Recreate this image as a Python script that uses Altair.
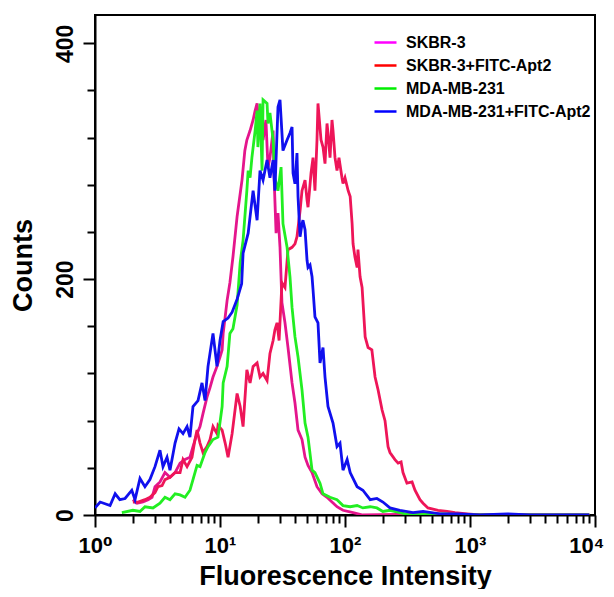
import altair as alt
import pandas as pd

series_names = ["SKBR-3", "SKBR-3+FITC-Apt2", "MDA-MB-231", "MDA-MB-231+FITC-Apt2"]
legend_colors = ["#ff00ff", "#ff0000", "#00ee00", "#0000ff"]
line_colors = ["#e4158c", "#ee1558", "#22ee22", "#1010ee"]

# SKBR-3
skbr3_x = [2.01, 2.17, 2.42, 2.66, 2.86, 3.02, 3.31, 3.63, 3.98, 4.37, 4.79, 5.25, 5.75, 6.08,
           6.55, 6.92, 7.31, 7.87, 8.32, 8.79, 9.46, 10.0, 10.4, 10.6, 11.0, 11.4, 12.0, 12.7,
           13.7, 13.9, 15.0, 15.8, 16.4, 17.4, 18.4, 19.1, 19.8, 20.1, 20.9, 22.1, 23.3, 24.2,
           25.1, 26.6, 27.0, 28.1, 29.1, 30.2, 31.3, 33.1, 35.0, 37.7, 39.8, 42.1, 45.3, 47.9,
           50.6, 54.5, 59.7, 65.5, 71.8, 78.7, 86.3, 96.4, 116, 139, 500, 900, 2000, 5000, 9000]
skbr3_y = [13, 10, 11, 13, 15, 24, 28, 36, 32, 36, 44, 47, 49, 58,
           69, 75, 86, 100, 108, 117, 126, 134, 140, 154, 168, 182, 197, 219,
           253, 258, 284, 309, 318, 326, 335, 343, 349, 341, 326, 318, 335, 295,
           303, 326, 290, 239, 256, 227, 180, 163, 142, 112, 95, 72, 64, 49,
           42, 36, 24, 18, 15, 11, 7, 4, 2, 0, 1, 0, 0, 0, 0]

# SKBR-3+FITC-Apt2
skbr3_apt_x = [2.01, 2.21, 2.51, 2.75, 3.02, 3.19, 3.44, 3.63, 3.98, 4.37, 4.79, 5.06, 5.45, 5.97,
               6.31, 6.55, 6.92, 7.31, 7.87, 8.32, 8.79, 9.46, 9.64, 10.4, 11.0, 11.6, 12.5, 13.7,
               14.5, 15.3, 16.4, 17.4, 18.4, 19.8, 20.9, 22.1, 23.8, 25.1, 26.6, 27.5, 28.6, 29.7,
               31.3, 33.1, 35.0, 37.7, 39.8, 41.3, 43.7, 45.3, 47.9, 49.7, 50.6, 53.5, 55.5, 57.5,
               59.7, 60.8, 64.3, 66.7, 69.2, 71.8, 73.1, 75.9, 78.7, 80.2, 83.2, 86.3, 89.5, 94.6,
               96.4, 100, 106, 110, 114, 116, 120, 125, 127, 132, 137, 145, 153, 164,
               174, 184, 198, 209, 221, 229, 251, 266, 281, 291, 313, 344, 363, 398,
               421, 461, 506, 555, 655, 759, 946, 1200, 2000, 5000, 9000]
skbr3_apt_y = [11, 11, 13, 15, 19, 24, 25, 30, 32, 36, 36, 47, 41, 49,
               64, 72, 61, 53, 58, 64, 75, 69, 76, 72, 61, 49, 69, 103,
               92, 75, 123, 112, 126, 129, 117, 120, 114, 137, 148, 157, 163, 148,
               197, 193, 225, 227, 230, 236, 258, 275, 284, 267, 261, 290, 303, 275,
               318, 349, 318, 312, 298, 332, 324, 303, 335, 326, 303, 292, 303, 286,
               281, 286, 275, 270, 247, 230, 219, 210, 225, 202, 193, 151, 142, 140,
               117, 106, 89, 80, 58, 53, 47, 44, 45, 36, 27, 28, 21, 13,
               10, 6, 5, 4, 3, 2, 1, 0, 0, 0, 0]

# MDA-MB-231
mda_x = [1.64, 2.01, 2.29, 2.51, 2.91, 3.31, 3.63, 3.98, 4.37, 4.79, 5.25, 5.75, 6.08, 6.55,
         6.92, 7.59, 8.02, 8.79, 9.64, 10.4, 10.6, 11.4, 12.0, 12.7, 13.7, 14.5, 15.3, 16.4,
         16.8, 17.4, 18.0, 19.1, 19.8, 20.1, 20.9, 21.7, 22.1, 23.8, 24.2, 25.1, 26.6, 27.5,
         29.1, 30.8, 31.9, 34.4, 36.3, 37.7, 39.8, 42.1, 45.3, 47.9, 50.6, 54.5, 57.5, 63.1,
         66.7, 75.9, 86.3, 96.4, 110, 125, 139, 159, 180, 201, 229, 275, 331, 600, 1000,
         2000, 5000, 9000]
mda_y = [2, 4, 3, 7, 6, 10, 15, 13, 18, 17, 15, 21, 30, 42,
         41, 53, 58, 64, 66, 92, 112, 126, 154, 158, 178, 214, 233, 275,
         292, 286, 303, 326, 343, 312, 349, 292, 352, 349, 332, 341, 318, 286,
         275, 295, 247, 227, 202, 176, 151, 134, 106, 78, 66, 38, 36, 27,
         18, 15, 13, 8, 7, 8, 6, 7, 6, 3, 4, 2, 0, 1, 0,
         0, 0, 0]

# MDA-MB-231+FITC-Apt2
mda_apt_x = [1.00, 1.10, 1.32, 1.45, 1.58, 1.74, 1.97, 2.09, 2.29, 2.51, 2.75, 3.02, 3.31, 3.50,
             3.77, 3.98, 4.37, 4.70, 5.06, 5.45, 5.75, 6.08, 6.67, 7.18, 7.59, 8.02, 8.79, 9.46,
             10.0, 10.6, 11.6, 12.5, 13.7, 14.9, 15.3, 16.8, 18.4, 19.8, 20.9, 22.1, 23.8, 25.1,
             26.6, 27.5, 29.1, 30.2, 31.9, 34.4, 36.3, 37.7, 38.4, 39.8, 41.3, 42.1, 43.7, 45.3,
             46.1, 47.9, 49.7, 50.6, 52.5, 54.5, 55.5, 57.5, 60.8, 63.1, 66.7, 69.2, 73.1, 80.2,
             86.3, 91.2, 96.4, 104, 110, 125, 139, 159, 180, 201, 229, 275, 350, 421, 575,
             800, 1200, 2000, 3000, 5000, 9000]
mda_apt_y = [6, 11, 8, 18, 13, 14, 21, 13, 31, 24, 30, 41, 55, 41,
             49, 38, 61, 73, 69, 75, 66, 92, 97, 112, 97, 126, 154, 126,
             148, 164, 167, 172, 183, 196, 222, 239, 275, 250, 292, 284, 301, 286,
             301, 275, 346, 352, 309, 318, 324, 329, 290, 281, 307, 270, 236, 247,
             250, 242, 216, 210, 212, 202, 191, 168, 163, 129, 142, 117, 92, 78,
             58, 61, 38, 47, 36, 24, 21, 13, 14, 11, 6, 4, 2, 3, 1,
             1, 0, 1, 0, 0, 0]

x_tick_values = [m * 10 ** k for k in range(4) for m in range(1, 10)] + [10000]
x_major = [1, 10, 100, 1000, 10000]
x_major_labels = ["10⁰", "10¹", "10²", "10³", "10⁴"]
y_tick_values = list(range(0, 401, 40))
y_major = [0, 200, 400]

rows = []
for name, xs, ys in zip(series_names,
                        [skbr3_x, skbr3_apt_x, mda_x, mda_apt_x],
                        [skbr3_y, skbr3_apt_y, mda_y, mda_apt_y]):
    for i, (xv, yv) in enumerate(zip(xs, ys)):
        rows.append({"series": name, "intensity": xv, "count": yv, "i": i})
df = pd.DataFrame(rows)

x_label_expr = " : ".join(
    f"datum.value == {v} ? '{lab}'" for v, lab in zip(x_major, x_major_labels)
) + " : ''"
x_major_test = "indexof([" + ",".join(str(v) for v in x_major) + "], datum.value) >= 0"
y_major_test = "indexof([" + ",".join(str(v) for v in y_major) + "], datum.value) >= 0"
x_last_test = f"datum.value == {x_major[-1]}"

FONT = "Liberation Sans, Arial, DejaVu Sans"

x_enc = alt.X(
    "intensity:Q",
    scale=alt.Scale(type="log", domain=[1, 10000]),
    axis=alt.Axis(
        values=x_tick_values,
        labelExpr=x_label_expr,
        tickSize={"condition": {"test": x_major_test, "value": 12}, "value": 8},
        labelAlign={"condition": {"test": x_last_test, "value": "right"}, "value": "center"},
        labelOffset={"condition": {"test": x_last_test, "value": 9}, "value": 0},
        title="Fluorescence Intensity",
        grid=False,
        labelOverlap=False,
        labelFlush=False,
        labelPadding=8,
        labelFontSize=22,
        titlePadding=7,
    ),
)
y_enc = alt.Y(
    "count:Q",
    scale=alt.Scale(domain=[0, 424], nice=False),
    axis=alt.Axis(
        values=y_tick_values,
        labelExpr="datum.value % 200 == 0 ? datum.label : ''",
        tickSize={"condition": {"test": y_major_test, "value": 12}, "value": 8},
        title="Counts",
        grid=False,
        labelOverlap=False,
        labelFlush=False,
        labelAngle=270,
        labelAlign="center",
        labelBaseline="alphabetic",
        labelPadding=11,
        labelFontSize=23,
        titlePadding=17,
    ),
)

lines = alt.Chart(df).mark_line(strokeWidth=2.8, clip=True).encode(
    x=x_enc,
    y=y_enc,
    color=alt.Color(
        "series:N",
        scale=alt.Scale(domain=series_names, range=line_colors),
        legend=None,
    ),
    order="i:Q",
)

# legend-only layer (no rows pass the filter; entries come from the fixed domain)
legend_layer = alt.Chart(df).transform_filter("datum.count < 0").mark_line(
    strokeWidth=2.5
).encode(
    x="intensity:Q",
    y="count:Q",
    stroke=alt.Stroke(
        "series:N",
        scale=alt.Scale(domain=series_names, range=legend_colors),
        legend=alt.Legend(
            title=None,
            orient="none",
            legendX=278,
            legendY=15,
            symbolType="stroke",
            symbolSize=484,
            symbolStrokeWidth=2.5,
            labelFont=FONT,
            labelFontWeight="bold",
            labelFontSize=16,
            labelColor="black",
            labelOffset=8,
            labelLimit=400,
            rowPadding=2,
        ),
    ),
)

chart = alt.layer(lines, legend_layer).resolve_scale(
    color="independent", stroke="independent"
).properties(
    width=500,
    height=500,
    autosize=alt.AutoSizeParams(type="none"),
    padding={"left": 87, "top": 7, "right": 11, "bottom": 74},
).configure_view(
    stroke="black", strokeWidth=2
).configure_axis(
    domainColor="black",
    domainWidth=2,
    tickColor="black",
    tickWidth=2,
    labelColor="black",
    labelFont=FONT,
    labelFontWeight="bold",
    titleColor="black",
    titleFont=FONT,
    titleFontWeight="bold",
    titleFontSize=27,
)

chart.save("out.html", embed_options={"renderer": "svg", "actions": False})
